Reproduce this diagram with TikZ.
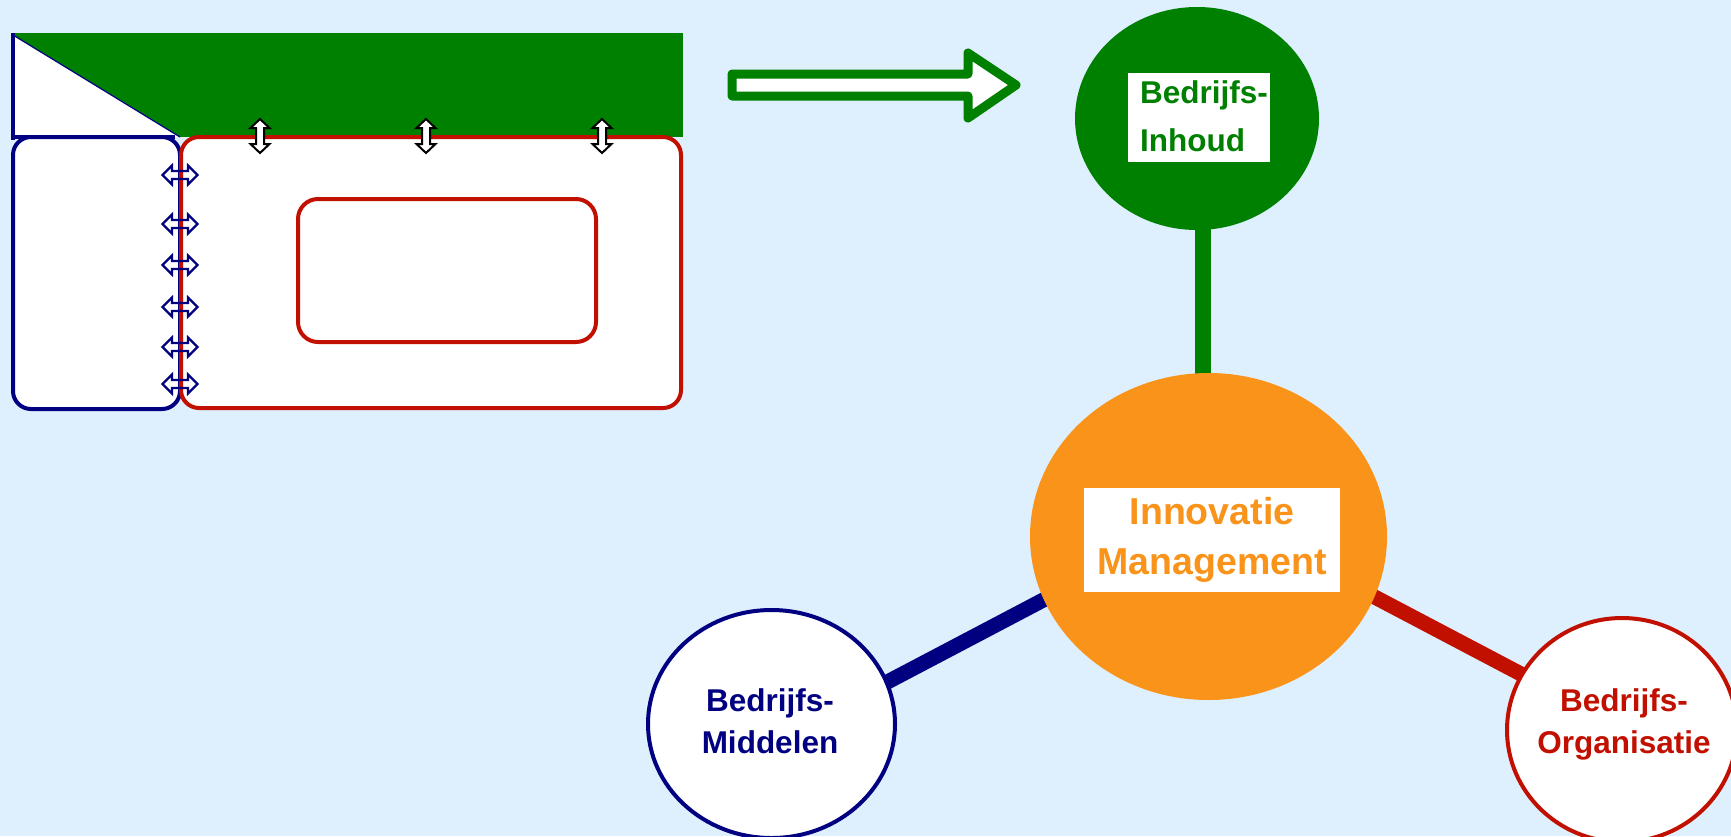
\documentclass[tikz,border=0pt]{standalone}
\usepackage{fontspec}
\setmainfont{Liberation Sans}
\usetikzlibrary{shapes.geometric}
\definecolor{bgc}{RGB}{222,239,253}
\definecolor{dgreen}{RGB}{0,128,0}
\definecolor{navy}{RGB}{0,0,128}
\definecolor{dred}{RGB}{194,16,0}
\definecolor{orng}{RGB}{249,147,26}
\pgfdeclarelayer{back}
\pgfsetlayers{back,main}
\begin{document}
\begin{tikzpicture}[x=1pt,y=-1pt,
  circ/.style={ellipse, inner sep=0pt},
  lbl/.style={font=\fontsize{31.5}{42}\selectfont\bfseries, align=center, inner sep=0pt},
  conn/.style={line width=15pt, shorten <=-8pt, shorten >=-8pt},
  varr/.pic={\draw[black, line width=2pt, fill=white, line join=miter]
     (0,-17) -- (9.5,-8) -- (4,-8) -- (4,8) -- (9.5,8) -- (0,17) -- (-9.5,8) -- (-4,8) -- (-4,-8) -- (-9.5,-8) -- cycle;},
  harr/.pic={\draw[navy, line width=2.2pt, line join=miter]
     (-17.5,0) -- (-8,-9.5) -- (-8,-4) -- (8,-4) -- (8,-9.5) -- (17.5,0) -- (8,9.5) -- (8,4) -- (-8,4) -- (-8,9.5) -- cycle;}
]
\useasboundingbox (0,0) rectangle (1731,836);
\begin{pgfonlayer}{back}
\fill[bgc] (0,0) rectangle (1731,836);
\end{pgfonlayer}
\clip (0,0) rectangle (1731,836);

% left diagram
\fill[dgreen] (11,33) rectangle (683,137);
\fill[white] (13,35) -- (13,137) -- (180,137) -- cycle;
\draw[navy, line width=1.2pt] (13,35) -- (180,137);
\draw[navy, line width=4pt, fill=white, rounded corners=18pt] (13,137) rectangle (180,409);
\draw[navy, line width=4pt] (13,33) -- (13,140);
\draw[navy, line width=4pt] (13,137) -- (175,137);
\draw[dred, line width=4pt, fill=white, rounded corners=18pt] (181,137) rectangle (681,408);
\draw[dred, line width=4pt, rounded corners=20pt] (298,199) rectangle (596,342);
\foreach \x in {260,426,602} \pic at (\x,136) {varr};
\foreach \y in {175,224,265,307,347,384} \pic at (180,\y) {harr};

% big arrow
\draw[dgreen, line width=9pt, fill=white, line join=round]
  (732,74) -- (968,74) -- (968,53) -- (1016,85) -- (968,118) -- (968,96) -- (732,96) -- cycle;

% nodes
\node[circ, fill=dgreen, minimum width=244pt, minimum height=223pt] (inh) at (1197,118.5) {};
\node[fill=white, minimum width=142pt, minimum height=89pt, inner sep=0pt] (inhbox) at (1199,117.5) {};
\node[inner sep=0pt, font=\fontsize{31.5}{48}\selectfont\bfseries, align=left, text=dgreen, anchor=west] (inhtxt) at (1140,116) {Bedrijfs-\\Inhoud};

\node[circ, fill=orng, minimum width=357pt, minimum height=327pt] (im) at (1208.5,536.5) {};
\node[fill=white, minimum width=256pt, minimum height=104pt, inner sep=0pt, align=center,
      text=orng, font=\fontsize{37.5}{50}\selectfont\bfseries] (imtxt) at (1212,540) {Innovatie\\Management};

\node[circ, draw=navy, line width=4pt, fill=white, minimum width=247pt, minimum height=228pt] (mid) at (771.5,724) {};
\node[lbl, text=navy] (midtxt) at (770,721) {Bedrijfs-\\Middelen};

\node[circ, draw=dred, line width=4pt, fill=white, minimum width=230pt, minimum height=224pt] (org) at (1622,730) {};
\node[lbl, text=dred] (orgtxt) at (1624,724) {Bedrijfs-\\Organisatie};

% connectors (behind nodes)
\begin{pgfonlayer}{back}
\draw[dgreen, line width=16pt] (inh.center -| 1203,0) -- (im.center -| 1203,0);
\draw[navy, conn] (mid.20) -- (im.201);
\draw[dred, conn] (im.340) -- (org.151);
\end{pgfonlayer}
\end{tikzpicture}
\end{document}
